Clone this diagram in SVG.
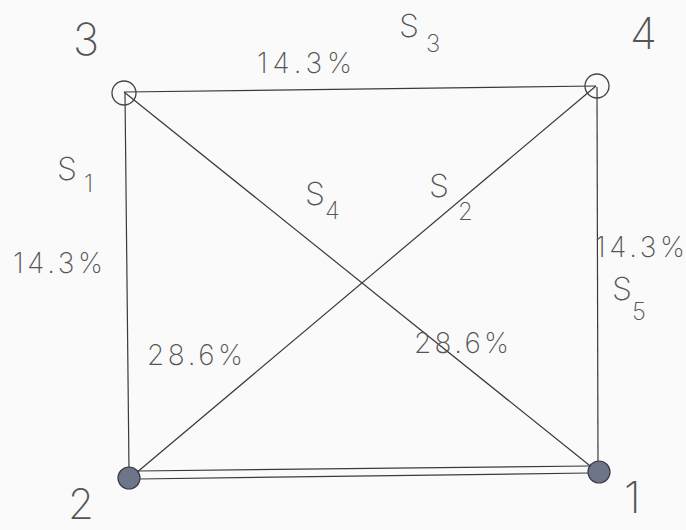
<svg xmlns="http://www.w3.org/2000/svg" width="686" height="530" viewBox="0 0 686 530">
<style>
.bg{fill:#fafafa}
.edge{stroke:#3a3a3a;stroke-width:1.2;fill:none}
.open{fill:none;stroke:#444;stroke-width:1.3}
.solid{fill:#6f7588;stroke:#3a3a48;stroke-width:1.2}
text{font-family:Inter,"DejaVu Sans",sans-serif;font-weight:200;fill:#555}
.num{font-size:44px}
.pct{font-size:28px}
.s{font-size:32px}
.sub{font-size:24px}
</style>
<rect class="bg" x="0" y="0" width="686" height="530"/>
<g id="connectors">
<line class="edge" x1="124" y1="92" x2="596" y2="86"/>
<line class="edge" x1="125" y1="93" x2="129" y2="470"/>
<line class="edge" x1="597" y1="87" x2="598" y2="464"/>
<line class="edge" x1="138" y1="471" x2="590" y2="466"/>
<line class="edge" x1="138" y1="479" x2="590" y2="473"/>
<line class="edge" x1="124" y1="92" x2="599" y2="473"/>
<line class="edge" x1="129" y1="479" x2="596" y2="86"/>
<g id="label-s3"><text class="s" x="399" y="37">S</text><text class="sub" x="426" y="52">3</text><text class="pct" x="257" y="73" textLength="95" lengthAdjust="spacing">14.3%</text></g>
<g id="label-s1"><text class="s" x="57" y="180">S</text><text class="sub" x="84" y="192">1</text><text class="pct" x="13" y="273" textLength="90" lengthAdjust="spacing">14.3%</text></g>
<g id="label-s5"><text class="pct" x="595" y="257" textLength="90" lengthAdjust="spacing">14.3%</text><text class="s" x="612" y="300">S</text><text class="sub" x="632" y="320">5</text></g>
<g id="label-s4"><text class="s" x="305" y="205">S</text><text class="sub" x="325" y="219">4</text><text class="pct" x="147" y="365" textLength="96" lengthAdjust="spacing">28.6%</text></g>
<g id="label-s2"><text class="s" x="429" y="197">S</text><text class="sub" x="458" y="220">2</text><text class="pct" x="414" y="353" textLength="95" lengthAdjust="spacing">28.6%</text></g>
</g>
<g id="node-3"><circle class="open" cx="124" cy="93" r="12"/><text class="num" x="73" y="55">3</text></g>
<g id="node-4"><circle class="open" cx="597" cy="86" r="12"/><text class="num" x="630" y="49">4</text></g>
<g id="node-2"><circle class="solid" cx="129" cy="478" r="11"/><text class="num" x="68" y="519" style="font-size:42px">2</text></g>
<g id="node-1"><circle class="solid" cx="599" cy="472" r="11"/><text class="num" x="624" y="513">1</text></g>
</svg>
